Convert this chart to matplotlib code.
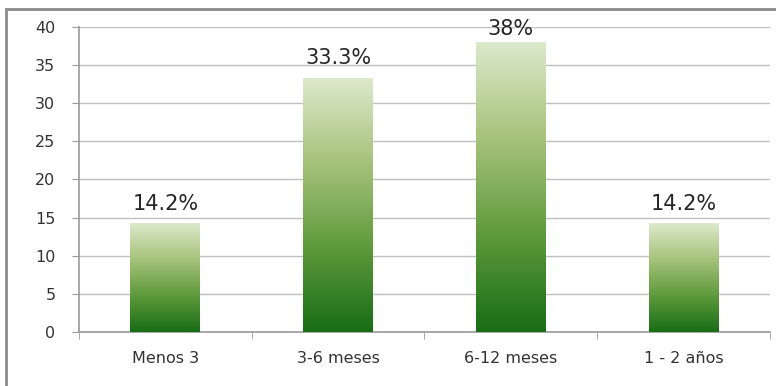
import matplotlib
matplotlib.use("Agg")
import matplotlib.pyplot as plt
from matplotlib.colors import LinearSegmentedColormap
from matplotlib.patches import Rectangle
import numpy as np

categories = ['Menos 3', '3-6 meses', '6-12 meses', '1 - 2 años']
values = [14.2, 33.3, 38, 14.2]
value_labels = ['14.2%', '33.3%', '38%', '14.2%']
y_ticks = [0, 5, 10, 15, 20, 25, 30, 35, 40]

fig = plt.figure(figsize=(7.76, 3.86), dpi=100)
ax = fig.add_axes([79 / 776, 1 - 332 / 386, (770 - 79) / 776, (332 - 27) / 386])

# outer frame of the chart (cut by the image on the right and bottom)
fig.patches.append(Rectangle((6 / 776, -0.05), 1.0, 1 - 9 / 386 + 0.05,
                             transform=fig.transFigure, fill=False,
                             edgecolor='#8a8a8a', linewidth=2))

# gradient: dark green at the base, pale green on top
cmap = LinearSegmentedColormap.from_list('grn', ['#176d15', '#5e9a3c', '#a6c27a', '#dce9cb'])
grad = np.linspace(0, 1, 256).reshape(-1, 1)

width = 0.405
for i, v in enumerate(values):
    ax.imshow(grad, cmap=cmap, origin='lower', aspect='auto',
              extent=[i - width / 2, i + width / 2, 0, v], zorder=3)
    # like Excel, the label of the tallest bar gets pushed down to stay in the frame
    off = 5 if v > 36 else 10
    ax.annotate(value_labels[i], (i, v), xytext=(0, off), textcoords='offset points',
                ha='center', va='baseline', fontsize=15, color='#262626', zorder=4)

ax.set_xlim(-0.5, 3.5)
ax.set_ylim(0, 40)
ax.set_yticks(y_ticks)
ax.set_xticks(range(len(categories)))
ax.set_xticklabels(categories)
ax.set_xticks(np.arange(-0.5, 4, 1), minor=True)
ax.grid(axis='y', color='#c0c0c0', linewidth=1.0, zorder=0)
ax.set_axisbelow(True)

for s in ['top', 'right']:
    ax.spines[s].set_visible(False)
for s in ['left', 'bottom']:
    ax.spines[s].set_color('#9a9a9a')
    ax.spines[s].set_linewidth(1.2)

ax.tick_params(axis='y', length=5, color='#9a9a9a', labelsize=11.5, labelcolor='#333333', pad=12)
ax.tick_params(axis='x', which='major', length=0, labelsize=11.5, labelcolor='#333333', pad=14)
ax.tick_params(axis='x', which='minor', length=5, color='#9a9a9a')

fig.savefig('out.png', dpi=100)
